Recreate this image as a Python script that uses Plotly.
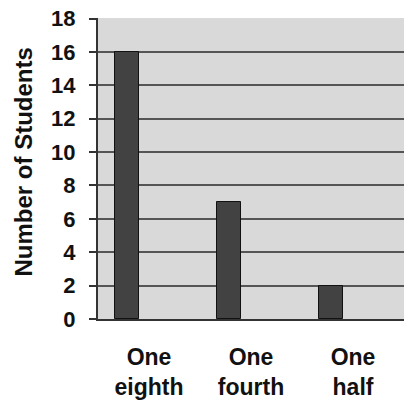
import plotly.graph_objects as go

categories = ["One<br>eighth", "One<br>fourth", "One<br>half"]
students = [16, 7, 2]
y_ticks = [0, 2, 4, 6, 8, 10, 12, 14, 16, 18]

FONT = "Liberation Sans, Arial, sans-serif"

fig = go.Figure()
fig.add_trace(go.Bar(
    x=categories,
    y=students,
    width=0.235,
    offset=-0.335,
    marker=dict(color="#424242", line=dict(color="#111111", width=1)),
))

fig.update_layout(
    width=404, height=404,
    margin=dict(l=98, r=0, t=18, b=85),
    paper_bgcolor="white",
    plot_bgcolor="#d9d9d9",
    showlegend=False,
    font=dict(family=FONT, color="#111111"),
    bargap=0,
)
fig.update_xaxes(
    type="category",
    range=[-0.5, 2.5],
    showgrid=False,
    showline=True, linecolor="#333333", linewidth=2,
    ticks="",
    tickfont=dict(family=FONT, size=23, color="#111111", weight="bold"),
    ticklabelstandoff=16,
    automargin=False,
)
fig.update_yaxes(
    range=[0, 18.03],
    tickvals=y_ticks,
    showgrid=True, gridcolor="#555555", gridwidth=2,
    showline=True, linecolor="#333333", linewidth=2,
    ticks="outside", ticklen=7, tickwidth=2, tickcolor="#333333",
    tickfont=dict(family=FONT, size=22, color="#111111", weight="bold"),
    ticklabelstandoff=9,
    ticklabeloverflow="allow",
    zeroline=False,
    automargin=False,
)
fig.add_annotation(
    text="Number of Students",
    xref="paper", yref="paper", x=0, y=0.5,
    xanchor="center", yanchor="middle",
    xshift=-75, yshift=6,
    textangle=-90, showarrow=False,
    font=dict(family=FONT, size=24, color="#111111", weight="bold"),
)

fig.write_html(
    "out.html",
    config={"displayModeBar": False},
    post_script="document.body.style.margin='0';document.body.style.overflow='hidden';",
)
